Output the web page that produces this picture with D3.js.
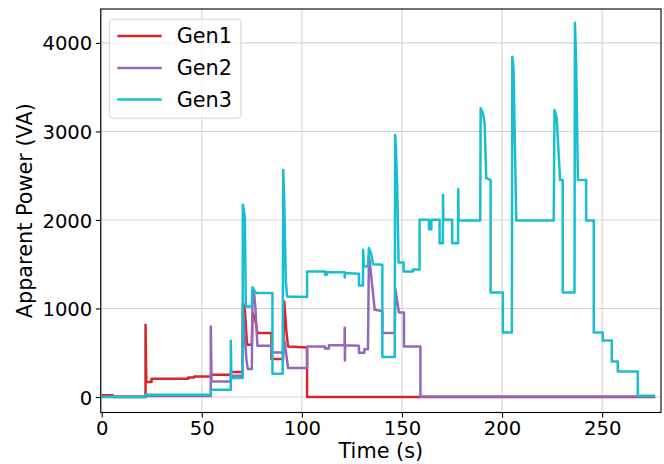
<!DOCTYPE html>
<html>
<head>
<meta charset="utf-8">
<script src="https://cdn.jsdelivr.net/npm/d3@7"></script>
<style>
  html, body { margin: 0; padding: 0; background: #fff; }
  svg { display: block; font-family: "DejaVu Sans", sans-serif; }
</style>
</head>
<body>
<svg id="chart" width="664" height="464"></svg>
<script>
// ---- data (time in s, apparent power in VA) ----
const seriesNames = ["Gen1", "Gen2", "Gen3"];
const seriesColors = ["#d62728", "#9467bd", "#17becf"];
const xTicks = [0, 50, 100, 150, 200, 250];
const yTicks = [0, 1000, 2000, 3000, 4000];

const gen1 = [[0,20],[5.5,20],[5.5,0],[21.9,0],[21.9,816],[22.3,169],[24.9,169],[24.9,206],[43.2,206],[43.2,219],[46.2,219],[46.2,233],[54.5,233],[54.5,252],[64.5,252],[64.5,282],[70.4,282],[70.6,1060],[71.5,985],[72.6,590],[75.0,590],[75.3,950],[76.5,900],[77.8,722],[84.8,722],[84.8,428],[90.6,428],[91.2,1080],[92.3,729],[93.1,571],[102.6,560],[102.6,0],[276.5,0]];

const gen2 = [[0,5],[21.9,5],[21.9,10],[54.5,10],[54.5,797],[54.9,176],[64.5,176],[64.5,240],[70.4,240],[70.6,1000],[71.5,700],[72.3,420],[73.0,315],[75.0,315],[75.3,1060],[76.0,1200],[76.8,1000],[77.8,579],[84.8,579],[84.8,503],[90.6,503],[90.8,690],[91.5,600],[93.1,327],[102.6,327],[102.6,571],[111.5,571],[111.5,548],[113.5,548],[113.5,585],[121.3,585],[121.4,782],[121.5,413],[121.6,585],[128.5,580],[128.5,500],[131.2,500],[131.2,540],[133.0,540],[133.5,1587],[134.5,1400],[136.4,985],[140.2,970],[140.2,722],[146.4,722],[146.7,1219],[148.5,955],[151.0,955],[151.0,571],[159.2,571],[159.2,5],[276.5,5]];

const gen3 = [[0,0],[21.9,0],[21.9,26],[54.5,26],[54.5,82],[64.5,82],[64.5,635],[64.8,214],[70.4,214],[70.5,2171],[71.5,2038],[72.0,1023],[75.0,1023],[75.3,1241],[76.5,1192],[77.5,1174],[85.3,1174],[85.3,263],[90.4,263],[90.7,2565],[91.2,2200],[92.0,1300],[92.6,1135],[102.6,1129],[102.6,1418],[111.6,1418],[111.6,1380],[112.4,1380],[112.4,1410],[121.3,1410],[121.4,1350],[121.6,1400],[128.5,1392],[128.5,1260],[130.5,1260],[130.6,1663],[131.0,1474],[133.0,1474],[133.5,1682],[134.6,1620],[135.5,1500],[140.2,1493],[140.2,451],[146.4,451],[146.6,2960],[147.0,2800],[147.6,2400],[148.3,1519],[150.8,1519],[150.8,1418],[155.5,1418],[155.5,1440],[158.8,1440],[158.8,2001],[163.5,2001],[163.5,1896],[164.7,1896],[164.7,2001],[168.8,2001],[168.8,1738],[170.4,1738],[170.5,2283],[170.7,2001],[175.1,2001],[175.1,1738],[178.0,1738],[178.1,2348],[178.3,1995],[189.1,1995],[189.3,3262],[190.5,3200],[191.3,3093],[192.1,2472],[194.3,2450],[194.3,1181],[200.4,1181],[200.4,729],[204.9,729],[205.1,3845],[205.7,3731],[207.1,1995],[225.8,1993],[226.2,3243],[227.3,3150],[229.0,2450],[230.3,2450],[230.3,1181],[236.2,1181],[236.4,4229],[237.0,3800],[237.9,2450],[242.0,2450],[242.0,1993],[245.8,1993],[245.8,729],[250.3,729],[250.3,639],[254.8,639],[254.8,402],[257.8,402],[257.8,289],[267.8,289],[267.8,15],[276.4,15]];

const seriesData = [gen1, gen2, gen3];

// ---- layout ----
const svg = d3.select("#chart");
const L = 100.7, R = 661, T = 9, B = 412.5;

const x = d3.scaleLinear().domain([-0.5, 279.4]).range([L, R]);
const y = d3.scaleLinear().domain([-175, 4383]).range([B, T]);

// grid
const grid = svg.append("g").attr("stroke", "#d3d3d3").attr("stroke-width", 1.1);
grid.selectAll("line.vx").data(xTicks).join("line")
  .attr("x1", d => x(d)).attr("x2", d => x(d)).attr("y1", T).attr("y2", B);
grid.selectAll("line.hy").data(yTicks).join("line")
  .attr("x1", L).attr("x2", R).attr("y1", d => y(d)).attr("y2", d => y(d));

// lines
const line = d3.line().x(d => x(d[0])).y(d => y(d[1]));
svg.append("clipPath").attr("id", "clip").append("rect")
  .attr("x", L).attr("y", T).attr("width", R - L).attr("height", B - T);
svg.append("g").attr("clip-path", "url(#clip)")
  .selectAll("path").data(seriesData).join("path")
  .attr("d", line)
  .attr("fill", "none")
  .attr("stroke", (d, i) => seriesColors[i])
  .attr("stroke-width", 2.5)
  .attr("stroke-linejoin", "round")
  .attr("stroke-linecap", "butt");

// axes
const xAxis = d3.axisBottom(x).tickValues(xTicks).tickSize(4.9).tickPadding(3.5).tickFormat(d3.format("d"));
const yAxis = d3.axisLeft(y).tickValues(yTicks).tickSize(4.9).tickPadding(3.5).tickFormat(d3.format("d"));

const gx = svg.append("g").attr("transform", `translate(0,${B})`).call(xAxis);
const gy = svg.append("g").attr("transform", `translate(${L},0)`).call(yAxis);
[gx, gy].forEach(g => {
  g.select(".domain").remove();
  g.selectAll(".tick line").attr("stroke", "#000").attr("stroke-width", 1.1);
  g.selectAll(".tick text").attr("fill", "#000").style("font-size", "19.6px")
    .style("font-family", "'DejaVu Sans', sans-serif");
});
gx.selectAll(".tick text").attr("dy", "0.72em");
gy.selectAll(".tick text").attr("dy", "0.36em");

// frame
svg.append("rect").attr("x", L).attr("y", T).attr("width", R - L).attr("height", B - T)
  .attr("fill", "none").attr("stroke", "#000").attr("stroke-width", 1.1);

// axis labels
svg.append("text").attr("x", (L + R) / 2).attr("y", 458)
  .attr("text-anchor", "middle").style("font-size", "20.8px").text("Time (s)");
svg.append("text").attr("transform", `translate(32,${(T + B) / 2}) rotate(-90)`)
  .attr("text-anchor", "middle").style("font-size", "20.8px").text("Apparent Power (VA)");

// legend
const lg = svg.append("g");
lg.append("rect").attr("x", 109.3).attr("y", 19.3).attr("width", 131.7).attr("height", 99)
  .attr("rx", 4).attr("fill", "#fff").attr("fill-opacity", 0.8)
  .attr("stroke", "#d6d6d6").attr("stroke-width", 1.1);
const rowsY = [36, 68, 99.5];
seriesNames.forEach((name, i) => {
  lg.append("line").attr("x1", 117.3).attr("x2", 161.7).attr("y1", rowsY[i]).attr("y2", rowsY[i])
    .attr("stroke", seriesColors[i]).attr("stroke-width", 2.5);
  lg.append("text").attr("x", 176.7).attr("y", rowsY[i]).attr("dy", "0.36em")
    .style("font-size", "20.8px").text(name);
});
</script>
</body>
</html>
